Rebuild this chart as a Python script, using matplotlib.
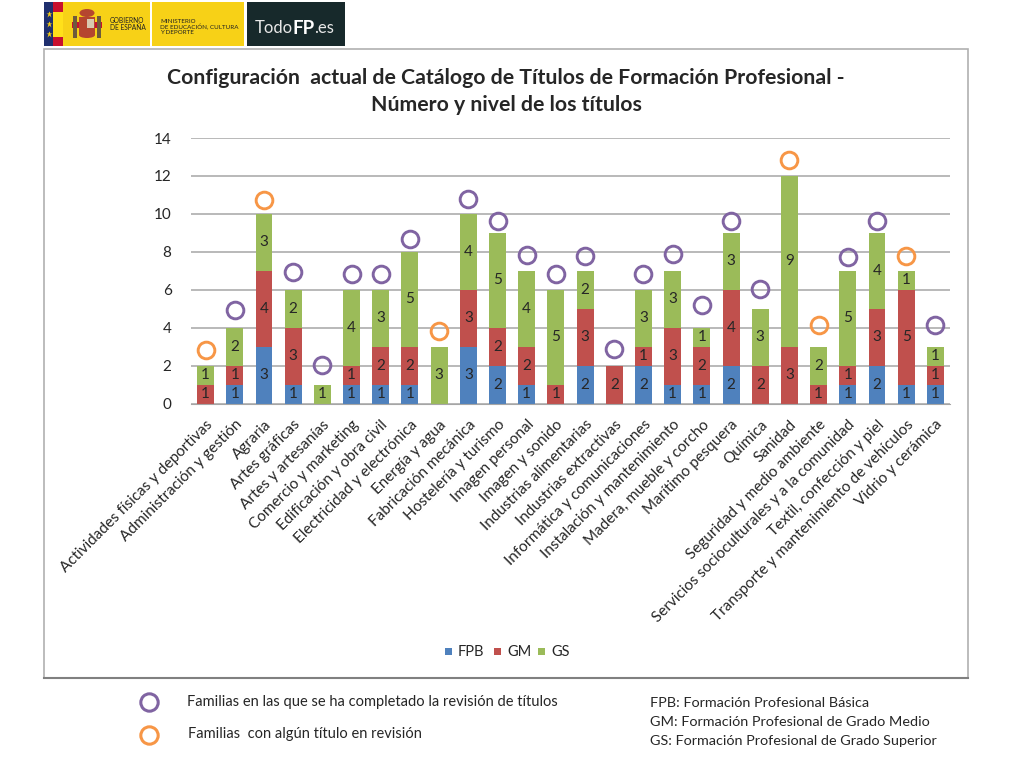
import numpy as np
import matplotlib
matplotlib.use('Agg')
from matplotlib import pyplot as plt
from matplotlib.patches import Rectangle, Ellipse

plt.rcParams['font.family'] = ['Lato', 'DejaVu Sans']

familias = ['Actividades físicas y deportivas', 'Administración y gestión', 'Agraria', 'Artes gráficas',
            'Artes y artesanías', 'Comercio y marketing', 'Edificación y obra civil', 'Electricidad y electrónica',
            'Energía y agua', 'Fabricación mecánica', 'Hostelería y turismo', 'Imagen personal',
            'Imagen y sonido', 'Industrias alimentarias', 'Industrias extractivas', 'Informática y comunicaciones',
            'Instalación y mantenimiento', 'Madera, mueble y corcho', 'Marítimo pesquera', 'Química',
            'Sanidad', 'Seguridad y medio ambiente', 'Servicios socioculturales y a la comunidad',
            'Textil, confección y piel', 'Transporte y mantenimiento de vehículos', 'Vidrio y cerámica']
fpb = [0, 1, 3, 1, 0, 1, 1, 1, 0, 3, 2, 1, 0, 2, 0, 2, 1, 1, 2, 0, 0, 0, 1, 2, 1, 1]
gm = [1, 1, 4, 3, 0, 1, 2, 2, 0, 3, 2, 2, 1, 3, 2, 1, 3, 2, 4, 2, 3, 1, 1, 3, 5, 1]
gs = [1, 2, 3, 2, 1, 4, 3, 5, 3, 4, 5, 4, 5, 2, 0, 3, 3, 1, 3, 3, 9, 2, 5, 4, 1, 1]
# height of the rings above the bars
circulo_y = [2.81, 4.94, 10.73, 6.92, 2.04, 6.85, 6.85, 8.68, 3.81, 10.78, 9.64, 7.83, 6.85,
             7.78, 2.88, 6.81, 7.88, 5.2, 9.64, 6.04, 12.82, 4.14, 7.73, 9.64, 7.76, 4.14]
en_revision = [0, 2, 8, 20, 21, 24]  # orange rings

AZUL, ROJO, VERDE = '#4F81BD', '#C0504D', '#9BBB59'
MORADO, NARANJA = '#8064A2', '#F79646'
TEXTO = '#262626'

W, H = 1024, 758
fig = plt.figure(figsize=(W / 100, H / 100), dpi=100, facecolor='white')

# overlay in pixel coords for frame, logos and notes
bg = fig.add_axes([0, 0, 1, 1])
bg.set_xlim(0, W)
bg.set_ylim(H, 0)
bg.axis('off')

# chart frame, darker at the bottom like the pasted screenshot
bg.add_patch(Rectangle((44, 49), 924, 629, fc='white', ec='#B0B0B0', lw=1.2))
bg.plot([44, 968], [678, 678], color='#808080', lw=1.5)

# logos
bg.add_patch(Rectangle((44, 2), 9, 44, fc='#1F2F6E', ec='none'))
bg.add_patch(Rectangle((53, 2), 10, 44, fc='#C8102E', ec='none'))
bg.add_patch(Rectangle((53, 12), 10, 25, fc='#FFE01A', ec='none'))
bg.add_patch(Rectangle((63, 2), 87, 44, fc='#F7D117', ec='none'))
bg.add_patch(Rectangle((152, 2), 92, 44, fc='#F7D117', ec='none'))
bg.add_patch(Rectangle((247, 2), 98, 44, fc='#17292B', ec='none'))
for sy in [14, 24, 34]:
    bg.plot(49, sy, marker='*', ms=5, color='#F7D117', mec='none')
# rough coat of arms
bg.add_patch(Ellipse((87, 13), 15, 8, fc='#B5462F', ec='none'))
bg.add_patch(Rectangle((79, 17), 16, 18, fc='#B5462F', ec='none'))
bg.add_patch(Ellipse((87, 35), 16, 6, fc='#B5462F', ec='none'))
bg.add_patch(Rectangle((87, 19), 7, 9, fc='#D9C9B0', ec='none'))
bg.add_patch(Rectangle((72, 22), 7, 6, fc='#C8102E', ec='none'))
bg.add_patch(Rectangle((95, 22), 7, 6, fc='#C8102E', ec='none'))
bg.add_patch(Rectangle((73, 16), 4, 22, fc='#6E5A3C', ec='none'))
bg.add_patch(Rectangle((97, 16), 4, 22, fc='#6E5A3C', ec='none'))
bg.text(110, 24, 'GOBIERNO\nDE ESPAÑA', fontsize=4.8, color='#222222', va='center', linespacing=1.0)
bg.text(160, 27, 'MINISTERIO\nDE EDUCACIÓN, CULTURA\nY DEPORTE', fontsize=4.5, color='#222222', va='center',
        linespacing=1.05)
bg.text(255, 28, 'Todo', fontsize=12, color='#E8E8E8', va='center')
bg.text(293, 28, 'FP', fontsize=13.5, color='white', va='center', fontweight='bold')
bg.text(314, 28, '.es', fontsize=12, color='#E8E8E8', va='center')

bg.text(506, 78, 'Configuración  actual de Catálogo de Títulos de Formación Profesional -', fontsize=15.3,
        fontweight='bold', color=TEXTO, ha='center', va='center')
bg.text(506, 105, 'Número y nivel de los títulos', fontsize=15.3, fontweight='bold', color=TEXTO,
        ha='center', va='center')

# stacked bars
ax = fig.add_axes([191 / W, 1 - 403.7 / H, 759 / W, 265.7 / H])
ax.patch.set_alpha(0)
x = np.arange(len(familias))
bottom = np.zeros(len(familias))
for vals, color, nombre in zip([fpb, gm, gs], [AZUL, ROJO, VERDE], ['FPB', 'GM', 'GS']):
    ax.bar(x, vals, 0.58, bottom=bottom, color=color, label=nombre, zorder=2)
    for xi, v, b in zip(x, vals, bottom):
        if v > 0:
            ax.text(xi, b + v / 2, str(v), ha='center', va='center', fontsize=11, color=TEXTO, zorder=4)
    bottom += np.array(vals)

colores = [NARANJA if i in en_revision else MORADO for i in x]
for xi, yi, c in zip(x, circulo_y, colores):
    ax.plot(xi, yi, marker='o', ms=12, mfc='none', mec=c, mew=2.1, zorder=5, clip_on=False)

ax.set_xlim(-0.5, len(familias) - 0.5)
ax.set_ylim(0, 14)
ax.set_yticks(range(0, 15, 2))
ax.yaxis.grid(True, color='#A6A6A6', lw=1.1, zorder=1)
ax.set_axisbelow(True)
ax.tick_params(axis='y', length=0, labelsize=11, labelcolor=TEXTO, pad=14)
ax.tick_params(axis='x', length=0, pad=10)
ax.set_xticks(x)
ax.set_xticklabels(familias, rotation=45, ha='right', rotation_mode='anchor', fontsize=11, color=TEXTO)
for s in ['top', 'left', 'right']:
    ax.spines[s].set_visible(False)
ax.spines['bottom'].set_color('#A6A6A6')

# series legend
for lx, c, nombre in zip([445, 494, 538], [AZUL, ROJO, VERDE], ['FPB', 'GM', 'GS']):
    bg.add_patch(Rectangle((lx, 648), 7, 7, fc=c, ec='none'))
    bg.text(lx + 13, 652, nombre, fontsize=10.5, color=TEXTO, va='center')

# notes below the chart
bg.plot(149, 702, marker='o', ms=12.5, mfc='none', mec=MORADO, mew=2.2)
bg.plot(149, 735, marker='o', ms=12.5, mfc='none', mec=NARANJA, mew=2.2)
bg.text(187, 702, 'Familias en las que se ha completado la revisión de títulos', fontsize=10.5, color=TEXTO, va='center')
bg.text(188, 734, 'Familias  con algún título en revisión', fontsize=10.5, color=TEXTO, va='center')
bg.text(650, 703, 'FPB: Formación Profesional Básica', fontsize=10.4, color=TEXTO, va='center')
bg.text(650, 722, 'GM: Formación Profesional de Grado Medio', fontsize=10.4, color=TEXTO, va='center')
bg.text(650, 741, 'GS: Formación Profesional de Grado Superior', fontsize=10.4, color=TEXTO, va='center')

fig.savefig('out.png', dpi=100)
